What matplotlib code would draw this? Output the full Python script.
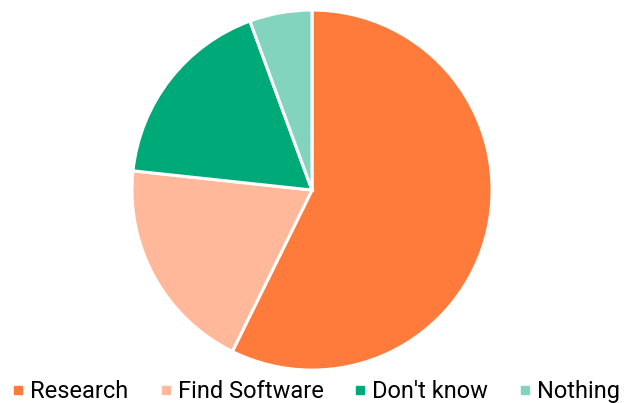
import matplotlib.pyplot as plt
from matplotlib.lines import Line2D

labels = ["Research", "Find Software", "Don't know", "Nothing"]
values = [57.3, 19.4, 17.7, 5.6]
colors = ["#FF7B3B", "#FFB99A", "#00A978", "#83D4BE"]

plt.rcParams['font.family'] = ['Roboto', 'DejaVu Sans']

fig = plt.figure(figsize=(6.24, 4.03), dpi=100)
ax = fig.add_axes([0.21, 0.0794, 0.58, 0.898])
ax.pie(values, colors=colors, startangle=90, counterclock=False,
       wedgeprops=dict(edgecolor="white", linewidth=2.2))
ax.set_aspect("equal")
ax.set_xlim(-1.005, 1.005)
ax.set_ylim(-1.005, 1.005)

handles = [Line2D([], [], marker="s", linestyle="none", markersize=5.8,
                  markerfacecolor=c, markeredgecolor=c) for c in colors]
fig.legend(handles, labels, loc="center left", bbox_to_anchor=(0.003, 0.029),
           ncol=4, frameon=False, fontsize=17, handlelength=0.6,
           handletextpad=0.21, columnspacing=1.26, borderaxespad=0)

fig.savefig("out.png", dpi=100)
